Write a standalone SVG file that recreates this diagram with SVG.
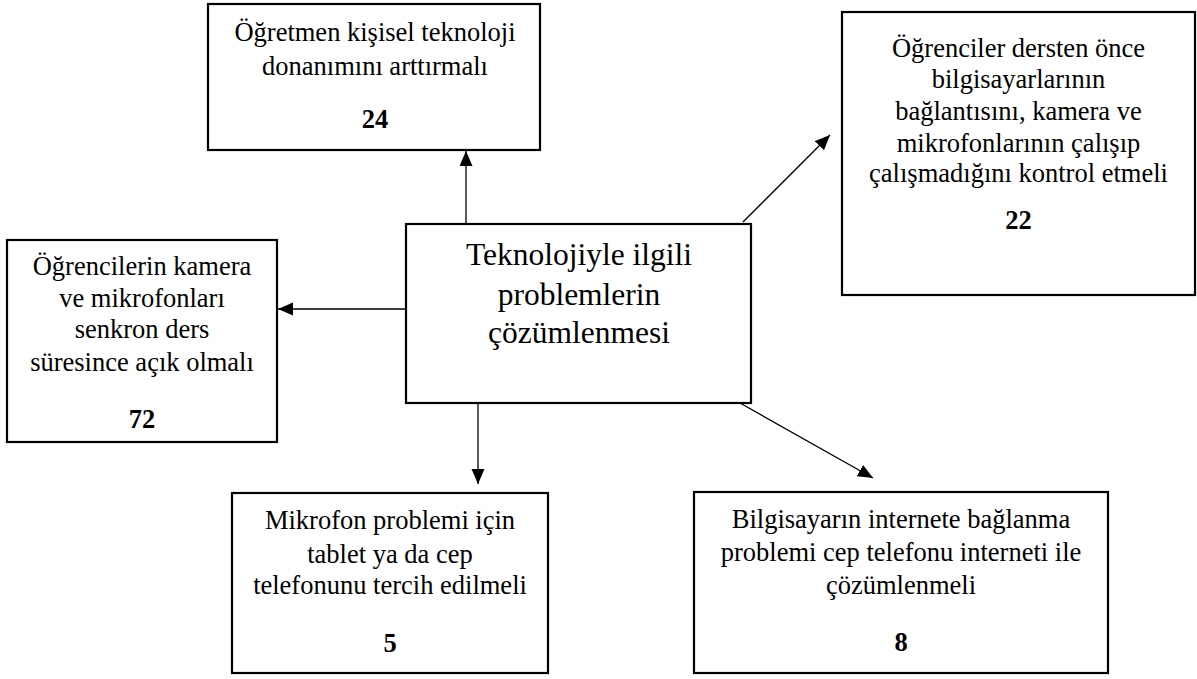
<svg xmlns="http://www.w3.org/2000/svg" width="1197" height="679" viewBox="0 0 1197 679">
<style>
.box{fill:#fff;stroke:#000;stroke-width:2.2}
.t{font-family:"Liberation Serif","Times New Roman",serif;font-size:26.5px;fill:#000;text-anchor:middle}
.n{font-weight:bold}
.c{font-size:31.5px}
.con{stroke:#000;stroke-width:1.3;fill:none}
</style>
<defs>
<marker id="ah" markerUnits="userSpaceOnUse" markerWidth="16" markerHeight="14" refX="15" refY="6.5" orient="auto">
<path d="M0,0 L15,6.5 L0,13 Z" fill="#000"/>
</marker>
</defs>
<rect width="1197" height="679" fill="#fff"/>
<g id="connectors">
<line class="con" x1="466" y1="223" x2="466" y2="151" marker-end="url(#ah)"/>
<line class="con" x1="743" y1="222" x2="830" y2="135" marker-end="url(#ah)"/>
<line class="con" x1="406" y1="309" x2="278" y2="309" marker-end="url(#ah)"/>
<line class="con" x1="478" y1="403" x2="478" y2="484" marker-end="url(#ah)"/>
<line class="con" x1="740" y1="403" x2="873" y2="478" marker-end="url(#ah)"/>
</g>
<g id="center">
<rect class="box" x="406" y="224" width="345" height="179"/>
<text class="t c" x="579" y="265">Teknolojiyle ilgili</text>
<text class="t c" x="579" y="305">problemlerin</text>
<text class="t c" x="579" y="343">çözümlenmesi</text>
</g>
<g id="top">
<rect class="box" x="208" y="4" width="332" height="146"/>
<text class="t" x="375" y="41">Öğretmen kişisel teknoloji</text>
<text class="t" x="375" y="75">donanımını arttırmalı</text>
<text class="t n" x="375" y="128">24</text>
</g>
<g id="topright">
<rect class="box" x="842" y="12" width="353" height="283"/>
<text class="t" x="1018.5" y="57">Öğrenciler dersten önce</text>
<text class="t" x="1018.5" y="88">bilgisayarlarının</text>
<text class="t" x="1018.5" y="120">bağlantısını, kamera ve</text>
<text class="t" x="1018.5" y="152">mikrofonlarının çalışıp</text>
<text class="t" x="1018.5" y="182">çalışmadığını kontrol etmeli</text>
<text class="t n" x="1018.5" y="229">22</text>
</g>
<g id="left">
<rect class="box" x="7" y="240" width="270" height="202"/>
<text class="t" x="142" y="275">Öğrencilerin kamera</text>
<text class="t" x="142" y="307">ve mikrofonları</text>
<text class="t" x="142" y="338">senkron ders</text>
<text class="t" x="142" y="371">süresince açık olmalı</text>
<text class="t n" x="142" y="428">72</text>
</g>
<g id="bottommid">
<rect class="box" x="232" y="493" width="316" height="180"/>
<text class="t" x="390" y="529">Mikrofon problemi için</text>
<text class="t" x="390" y="563">tablet ya da cep</text>
<text class="t" x="390" y="594">telefonunu tercih edilmeli</text>
<text class="t n" x="390" y="652">5</text>
</g>
<g id="bottomright">
<rect class="box" x="694" y="492" width="414" height="181"/>
<text class="t" x="901" y="528">Bilgisayarın internete bağlanma</text>
<text class="t" x="901" y="561">problemi cep telefonu interneti ile</text>
<text class="t" x="901" y="594">çözümlenmeli</text>
<text class="t n" x="901" y="651">8</text>
</g>
</svg>
